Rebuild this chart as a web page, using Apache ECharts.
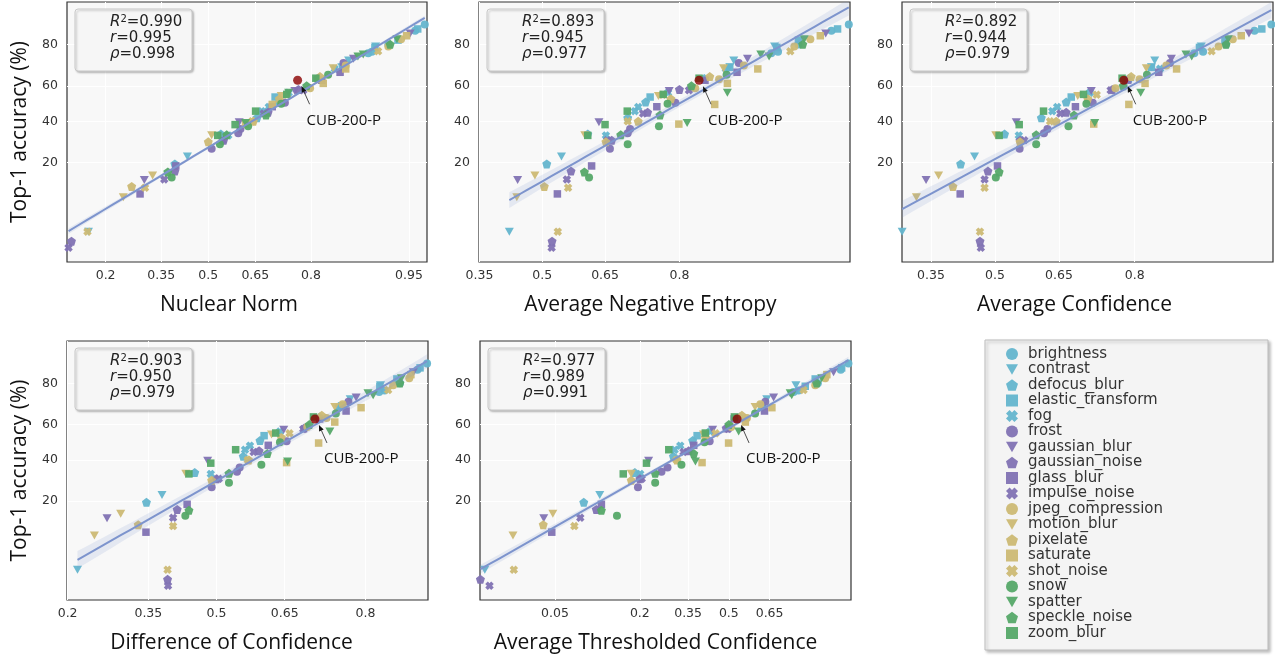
<!DOCTYPE html>
<html>
<head>
<meta charset="utf-8">
<title>Top-1 accuracy vs. uncertainty metrics</title>
<script src="https://cdn.jsdelivr.net/npm/echarts@6/dist/echarts.min.js"></script>
<style>
  html, body { margin: 0; padding: 0; background: #fff; }
  #chart { width: 1275px; height: 659px; }
</style>
</head>
<body>
<div id="chart"></div>
<script>
// corruption types, in legend order
const corruptions = ['brightness', 'contrast', 'defocus_blur', 'elastic_transform', 'fog',
  'frost', 'gaussian_blur', 'gaussian_noise', 'glass_blur', 'impulse_noise',
  'jpeg_compression', 'motion_blur', 'pixelate', 'saturate', 'shot_noise',
  'snow', 'spatter', 'speckle_noise', 'zoom_blur']

// top-1 accuracy (%) for the 5 severities of each corruption (same for every panel)
const accuracy = [
  [87.0, 85.0, 80.0, 77.0, 76.3],
  [79.2, 73.0, 69.7, 22.5, 3.4],
  [64.0, 50.9, 42.0, 33.2, 19.5],
  [85.6, 81.7, 78.8, 69.7, 53.7],
  [69.0, 56.1, 48.0, 45.7, 32.5],
  [71.8, 50.5, 35.8, 33.6, 26.0],
  [84.1, 73.8, 57.1, 39.5, 13.8],
  [58.0, 45.1, 30.0, 16.8, 2.5],
  [67.2, 63.0, 48.2, 18.7, 9.9],
  [57.5, 44.4, 30.0, 14.0, 2.0],
  [82.0, 79.2, 70.6, 63.5, 58.6],
  [69.2, 54.3, 32.6, 15.3, 9.1],
  [65.0, 52.7, 40.0, 29.3, 11.9],
  [83.3, 68.9, 61.3, 49.5, 38.5],
  [77.2, 55.0, 40.0, 11.5, 3.4],
  [65.9, 49.9, 37.3, 28.1, 14.6],
  [82.0, 75.8, 74.9, 56.1, 39.1],
  [80.1, 60.0, 43.5, 32.8, 16.5],
  [64.1, 55.2, 45.7, 38.2, 32.5]
]

const nuclearNorm = [
  [0.962, 0.955, 0.930, 0.910, 0.905],
  [0.915, 0.875, 0.863, 0.432, 0.163],
  [0.815, 0.720, 0.655, 0.541, 0.392],
  [0.957, 0.940, 0.914, 0.865, 0.708],
  [0.850, 0.745, 0.690, 0.669, 0.565],
  [0.866, 0.735, 0.604, 0.597, 0.511],
  [0.951, 0.883, 0.761, 0.600, 0.300],
  [0.770, 0.688, 0.550, 0.392, 0.131],
  [0.860, 0.824, 0.700, 0.395, 0.288],
  [0.782, 0.675, 0.545, 0.359, 0.126],
  [0.943, 0.930, 0.870, 0.815, 0.798],
  [0.847, 0.725, 0.511, 0.324, 0.243],
  [0.820, 0.720, 0.644, 0.500, 0.265],
  [0.948, 0.870, 0.827, 0.700, 0.620],
  [0.918, 0.740, 0.640, 0.302, 0.161],
  [0.837, 0.725, 0.628, 0.538, 0.382],
  [0.939, 0.898, 0.890, 0.745, 0.620],
  [0.932, 0.790, 0.682, 0.560, 0.370],
  [0.811, 0.740, 0.651, 0.587, 0.531]
]

const negEntropy = [
  [0.970, 0.962, 0.942, 0.926, 0.920],
  [0.923, 0.880, 0.875, 0.547, 0.420],
  [0.840, 0.737, 0.700, 0.610, 0.511],
  [0.965, 0.942, 0.925, 0.875, 0.746],
  [0.870, 0.780, 0.722, 0.715, 0.652],
  [0.886, 0.793, 0.705, 0.700, 0.661],
  [0.959, 0.896, 0.782, 0.636, 0.440],
  [0.800, 0.741, 0.665, 0.570, 0.524],
  [0.884, 0.841, 0.759, 0.619, 0.537],
  [0.816, 0.732, 0.655, 0.560, 0.523],
  [0.950, 0.939, 0.892, 0.861, 0.826],
  [0.867, 0.762, 0.603, 0.482, 0.438],
  [0.848, 0.785, 0.722, 0.652, 0.505],
  [0.956, 0.907, 0.872, 0.855, 0.799],
  [0.936, 0.770, 0.700, 0.563, 0.538],
  [0.871, 0.779, 0.763, 0.700, 0.613],
  [0.946, 0.910, 0.918, 0.872, 0.813],
  [0.945, 0.820, 0.765, 0.685, 0.602],
  [0.832, 0.771, 0.699, 0.650, 0.610]
]

const avgConf = [
  [0.952, 0.941, 0.918, 0.895, 0.885],
  [0.893, 0.832, 0.827, 0.451, 0.288],
  [0.790, 0.666, 0.610, 0.523, 0.418],
  [0.946, 0.917, 0.891, 0.827, 0.677],
  [0.840, 0.716, 0.646, 0.635, 0.557],
  [0.854, 0.722, 0.624, 0.616, 0.559],
  [0.937, 0.856, 0.719, 0.551, 0.339],
  [0.760, 0.666, 0.560, 0.483, 0.464],
  [0.838, 0.788, 0.686, 0.506, 0.417],
  [0.757, 0.653, 0.570, 0.475, 0.466],
  [0.924, 0.911, 0.849, 0.808, 0.766],
  [0.819, 0.691, 0.502, 0.367, 0.318],
  [0.794, 0.712, 0.644, 0.560, 0.400],
  [0.931, 0.863, 0.817, 0.790, 0.724],
  [0.904, 0.730, 0.630, 0.475, 0.464],
  [0.820, 0.709, 0.671, 0.598, 0.502],
  [0.920, 0.875, 0.882, 0.810, 0.726],
  [0.918, 0.780, 0.683, 0.598, 0.510],
  [0.778, 0.703, 0.615, 0.558, 0.510]
]

const diffConf = [
  [0.883, 0.872, 0.850, 0.829, 0.821],
  [0.823, 0.775, 0.762, 0.379, 0.216],
  [0.720, 0.597, 0.560, 0.451, 0.346],
  [0.875, 0.846, 0.822, 0.760, 0.606],
  [0.755, 0.640, 0.575, 0.564, 0.487],
  [0.772, 0.654, 0.552, 0.546, 0.489],
  [0.867, 0.785, 0.648, 0.480, 0.268],
  [0.690, 0.595, 0.500, 0.412, 0.391],
  [0.768, 0.720, 0.615, 0.434, 0.345],
  [0.688, 0.583, 0.505, 0.403, 0.392],
  [0.862, 0.841, 0.762, 0.733, 0.696],
  [0.748, 0.622, 0.431, 0.294, 0.245],
  [0.724, 0.643, 0.572, 0.489, 0.329],
  [0.864, 0.793, 0.748, 0.718, 0.654],
  [0.834, 0.660, 0.570, 0.403, 0.391],
  [0.750, 0.640, 0.600, 0.528, 0.430],
  [0.852, 0.804, 0.812, 0.739, 0.656],
  [0.850, 0.700, 0.613, 0.528, 0.438],
  [0.708, 0.631, 0.543, 0.487, 0.438]
]

const thrConf = [
  [0.871, 0.855, 0.800, 0.745, 0.730],
  [0.737, 0.640, 0.625, 0.111, 0.0105],
  [0.540, 0.366, 0.300, 0.187, 0.085],
  [0.857, 0.793, 0.765, 0.625, 0.382],
  [0.620, 0.430, 0.323, 0.304, 0.201],
  [0.635, 0.428, 0.281, 0.262, 0.195],
  [0.839, 0.664, 0.439, 0.224, 0.040],
  [0.490, 0.352, 0.200, 0.105, 0.0094],
  [0.632, 0.520, 0.370, 0.114, 0.047],
  [0.497, 0.334, 0.205, 0.080, 0.0118],
  [0.819, 0.793, 0.617, 0.568, 0.509],
  [0.598, 0.405, 0.178, 0.048, 0.0206],
  [0.549, 0.412, 0.312, 0.178, 0.0396],
  [0.823, 0.658, 0.562, 0.499, 0.400],
  [0.760, 0.450, 0.310, 0.072, 0.021],
  [0.598, 0.409, 0.327, 0.243, 0.145],
  [0.810, 0.719, 0.724, 0.537, 0.376],
  [0.797, 0.500, 0.370, 0.243, 0.114],
  [0.521, 0.412, 0.285, 0.218, 0.159]
]

// the CUB-200-P point, one x per panel
const cubAcc = 63.0
const cubX = [0.768, 0.832, 0.781, 0.711, 0.531]

// tick labels
const accTicks = [20, 40, 60, 80]
const nnTicks = [0.2, 0.35, 0.5, 0.65, 0.8, 0.95]
const neTicks = [0.35, 0.5, 0.65, 0.8]
const acTicks = [0.35, 0.5, 0.65, 0.8]
const dcTicks = [0.2, 0.35, 0.5, 0.65, 0.8]
const tcTicks = [0.05, 0.2, 0.35, 0.5, 0.65]

// R^2, r, rho printed in each panel
const statsNN = ['0.990', '0.995', '0.998']
const statsNE = ['0.893', '0.945', '0.977']
const statsAC = ['0.892', '0.944', '0.979']
const statsDC = ['0.903', '0.950', '0.979']
const statsTC = ['0.977', '0.989', '0.991']

// probit axis limits
const accRange = [1.2, 92.6]

const panels = [
  { name: 'Nuclear Norm', xs: nuclearNorm, ticks: nnTicks, range: [0.1234, 0.9635], stats: statsNN, shift: 36 },
  { name: 'Average Negative Entropy', xs: negEntropy, ticks: neTicks, range: [0.349, 0.9705], stats: statsNE, shift: 28 },
  { name: 'Average Confidence', xs: avgConf, ticks: acTicks, range: [0.2877, 0.953], stats: statsAC, shift: 26 },
  { name: 'Difference of Confidence', xs: diffConf, ticks: dcTicks, range: [0.199, 0.884], stats: statsDC, shift: 32 },
  { name: 'Average Thresholded Confidence', xs: thrConf, ticks: tcTicks, range: [0.0093, 0.876], stats: statsTC, shift: 20 }
]

const grids = [
  { left: 67, top: 2, width: 360, height: 260 },
  { left: 479, top: 2, width: 371, height: 260 },
  { left: 902, top: 2, width: 371, height: 260 },
  { left: 67, top: 341, width: 361, height: 259 },
  { left: 480, top: 341, width: 371, height: 259 }
]

/* styles */
const groupColors = ['#64b5cd', '#8172b3', '#ccb974', '#55a868']
const markerShapes = [
  'circle',
  'path://M0,0L10,0L5,8.7Z',
  'path://M5,0L9.76,3.45L7.94,9.05L2.06,9.05L0.24,3.45Z',
  'path://M0,0L10,0L10,10L0,10Z',
  'path://M0,3L3,0L5,2L7,0L10,3L8,5L10,7L7,10L5,8L3,10L0,7L2,5Z'
]
const markerSizes = [8, [9, 8], 9, 7.5, 8.5]
const lineColor = '#7d94cd'
const tickFont = 'DejaVu Sans'
const titleFont = 'Open Sans'

// inverse normal cdf (Acklam)
function probit(p) {
  const a = [-3.969683028665376e+01, 2.209460984245205e+02, -2.759285104469687e+02, 1.383577518672690e+02, -3.066479806614716e+01, 2.506628277459239e+00]
  const b = [-5.447609879822406e+01, 1.615858368580409e+02, -1.556989798598866e+02, 6.680131188771972e+01, -1.328068155288572e+01]
  const c = [-7.784894002430293e-03, -3.223964580411365e-01, -2.400758277161838e+00, -2.549732539343734e+00, 4.374664141464968e+00, 2.938163982698783e+00]
  const d = [7.784695709041462e-03, 3.224671290700398e-01, 2.445134137142996e+00, 3.754408661907416e+00]
  const pl = 0.02425
  let q, r
  if (p < pl) {
    q = Math.sqrt(-2 * Math.log(p))
    return (((((c[0] * q + c[1]) * q + c[2]) * q + c[3]) * q + c[4]) * q + c[5]) / ((((d[0] * q + d[1]) * q + d[2]) * q + d[3]) * q + 1)
  }
  if (p > 1 - pl) {
    q = Math.sqrt(-2 * Math.log(1 - p))
    return -(((((c[0] * q + c[1]) * q + c[2]) * q + c[3]) * q + c[4]) * q + c[5]) / ((((d[0] * q + d[1]) * q + d[2]) * q + d[3]) * q + 1)
  }
  q = p - 0.5
  r = q * q
  return (((((a[0] * r + a[1]) * r + a[2]) * r + a[3]) * r + a[4]) * r + a[5]) * q / (((((b[0] * r + b[1]) * r + b[2]) * r + b[3]) * r + b[4]) * r + 1)
}

function normCdf(z) {
  const t = 1 / (1 + 0.2316419 * Math.abs(z))
  const dens = Math.exp(-z * z / 2) / Math.sqrt(2 * Math.PI)
  const p = dens * t * (0.319381530 + t * (-0.356563782 + t * (1.781477937 + t * (-1.821255978 + t * 1.330274429))))
  return z >= 0 ? 1 - p : p
}

// least squares in probit space + 95% band for the mean
function fitLine(xs, ys) {
  const n = xs.length
  const mx = xs.reduce((s, v) => s + v, 0) / n
  const my = ys.reduce((s, v) => s + v, 0) / n
  let sxx = 0, sxy = 0
  for (let i = 0; i < n; i++) {
    sxx += (xs[i] - mx) ** 2
    sxy += (xs[i] - mx) * (ys[i] - my)
  }
  const b = sxy / sxx
  const a = my - b * mx
  let sse = 0
  for (let i = 0; i < n; i++) sse += (ys[i] - a - b * xs[i]) ** 2
  const s = Math.sqrt(sse / (n - 2))
  const lo = Math.min(...xs), hi = Math.max(...xs)
  const pts = []
  for (let j = 0; j <= 40; j++) {
    const x = lo + (hi - lo) * j / 40
    const se = s * Math.sqrt(1 / n + (x - mx) ** 2 / sxx)
    pts.push([x, a + b * x, 1.986 * se])
  }
  return pts
}

const chart = echarts.init(document.getElementById('chart'), null, { renderer: 'canvas' })

const xAxes = [], yAxes = [], series = []
panels.forEach((p, k) => {
  xAxes.push({
    type: 'value', gridIndex: k,
    min: probit(p.range[0]), max: probit(p.range[1]),
    name: p.name, nameLocation: 'middle', nameGap: 33,
    nameTextStyle: { fontFamily: titleFont, fontSize: 21, color: '#111', padding: [0, p.shift, 0, 0] },
    axisLine: { show: false },
    axisTick: { show: false, customValues: p.ticks.map(probit) },
    axisLabel: {
      customValues: p.ticks.map(probit), margin: 7,
      fontFamily: tickFont, fontSize: 12.5, color: '#333',
      formatter: v => String(+normCdf(v).toFixed(2))
    },
    splitLine: { show: true, lineStyle: { color: '#ffffff', width: 1 } }
  })
  yAxes.push({
    type: 'value', gridIndex: k,
    min: probit(accRange[0] / 100), max: probit(accRange[1] / 100),
    name: (k === 0 || k === 3) ? 'Top-1 accuracy (%)' : '',
    nameLocation: 'middle', nameGap: 36, nameRotate: 90,
    nameTextStyle: { fontFamily: titleFont, fontSize: 21, color: '#111' },
    axisLine: { show: false },
    axisTick: { show: false, customValues: accTicks.map(v => probit(v / 100)) },
    axisLabel: {
      customValues: accTicks.map(v => probit(v / 100)), margin: 9,
      fontFamily: tickFont, fontSize: 12.5, color: '#333',
      formatter: v => String(Math.round(normCdf(v) * 100))
    },
    splitLine: { show: true, lineStyle: { color: '#ffffff', width: 1 } }
  })

  const allX = [], allY = []
  corruptions.forEach((name, i) => {
    const data = p.xs[i].map((x, j) => [probit(x), probit(accuracy[i][j] / 100)])
    data.forEach(d => { allX.push(d[0]); allY.push(d[1]) })
    series.push({
      name, type: 'scatter', xAxisIndex: k, yAxisIndex: k,
      symbol: markerShapes[i % 5], symbolSize: markerSizes[i % 5],
      itemStyle: { color: groupColors[Math.floor(i / 5)], opacity: 0.95 },
      data, z: 2
    })
  })

  const fit = fitLine(allX, allY)
  series.push({
    type: 'custom', xAxisIndex: k, yAxisIndex: k, z: 3, silent: true, clip: true,
    data: [[fit[20][0], fit[20][1]]],
    renderItem: (params, api) => {
      const upper = fit.map(f => api.coord([f[0], f[1] + f[2]]))
      const lower = fit.map(f => api.coord([f[0], f[1] - f[2]])).reverse()
      return { type: 'polygon', shape: { points: upper.concat(lower) }, style: { fill: 'rgba(125,148,205,0.16)' } }
    }
  })
  series.push({
    type: 'line', xAxisIndex: k, yAxisIndex: k, z: 4, silent: true,
    showSymbol: false, data: fit.map(f => [f[0], f[1]]),
    lineStyle: { color: lineColor, width: 2 }
  })
  series.push({
    type: 'scatter', xAxisIndex: k, yAxisIndex: k, z: 5, silent: true,
    symbol: 'circle', symbolSize: 9, itemStyle: { color: '#8b0000' },
    data: [[probit(cubX[k]), probit(cubAcc / 100)]]
  })
})

chart.setOption({
  animation: false,
  backgroundColor: '#ffffff',
  grid: grids.map(g => Object.assign({
    show: true, backgroundColor: '#f8f8f8', borderColor: '#333', borderWidth: 1.2, containLabel: false
  }, g)),
  xAxis: xAxes,
  yAxis: yAxes,
  legend: {
    data: corruptions,
    orient: 'vertical',
    left: 1006, top: 346.5, height: 330,
    itemWidth: 12, itemHeight: 12, itemGap: 0.5,
    selectedMode: false,
    padding: 0, z: 5,
    textStyle: { fontFamily: tickFont, fontSize: 15, color: '#333', padding: [0, 0, 0, 5] }
  },
  series
})

// boxes, stats text and CUB-200-P annotations
const graphics = [{
  id: 'legend-box', type: 'rect', z: 0,
  shape: { x: 985, y: 340, width: 283, height: 310 },
  style: { fill: '#f4f4f4', stroke: '#bdbdbd', lineWidth: 1, shadowBlur: 3, shadowOffsetX: 2, shadowOffsetY: 2, shadowColor: 'rgba(0,0,0,0.25)' }
}]
panels.forEach((p, k) => {
  const g = grids[k]
  graphics.push({
    id: 'stat-box-' + k, type: 'rect', z: 10,
    shape: { x: g.left + 8, y: g.top + 7, width: 117, height: 62, r: 3 },
    style: { fill: '#f6f6f6', stroke: '#c8c8c8', lineWidth: 1, shadowBlur: 2, shadowOffsetX: 1.5, shadowOffsetY: 1.5, shadowColor: 'rgba(0,0,0,0.22)' }
  })
  graphics.push({
    id: 'stat-text-' + k, type: 'text', z: 11,
    x: g.left + 43, y: g.top + 12,
    style: {
      text: '{i|R}{s|2}{t|=' + p.stats[0] + '}\n{i|r}{t|=' + p.stats[1] + '}\n{i|ρ}{t|=' + p.stats[2] + '}',
      fill: '#222',
      rich: {
        i: { fontFamily: tickFont, fontStyle: 'italic', fontSize: 15, lineHeight: 16, fill: '#222' },
        t: { fontFamily: tickFont, fontSize: 15, lineHeight: 16, fill: '#222' },
        s: { fontFamily: tickFont, fontSize: 10, lineHeight: 10, verticalAlign: 'top', fill: '#222' }
      }
    }
  })
  const pt = chart.convertToPixel({ gridIndex: k }, [probit(cubX[k]), probit(cubAcc / 100)])
  const tip = [pt[0] + 4, pt[1] + 6], tail = [pt[0] + 12, pt[1] + 24]
  const dx = tip[0] - tail[0], dy = tip[1] - tail[1]
  const len = Math.hypot(dx, dy), ux = dx / len, uy = dy / len
  const base = [tip[0] - ux * 6, tip[1] - uy * 6]
  graphics.push({
    id: 'arrow-line-' + k, type: 'line', z: 12,
    shape: { x1: tail[0], y1: tail[1], x2: base[0], y2: base[1] },
    style: { stroke: '#222', lineWidth: 0.8 }
  })
  graphics.push({
    id: 'arrow-head-' + k, type: 'polygon', z: 12,
    shape: { points: [tip, [base[0] - uy * 2.5, base[1] + ux * 2.5], [base[0] + uy * 2.5, base[1] - ux * 2.5]] },
    style: { fill: '#111' }
  })
  graphics.push({
    id: 'arrow-text-' + k, type: 'text', z: 12,
    x: pt[0] + 9, y: pt[1] + 40,
    style: { text: 'CUB-200-P', fontFamily: titleFont, fontSize: 15, fill: '#111', verticalAlign: 'middle' }
  })
})
chart.setOption({ graphic: graphics })
</script>
</body>
</html>
